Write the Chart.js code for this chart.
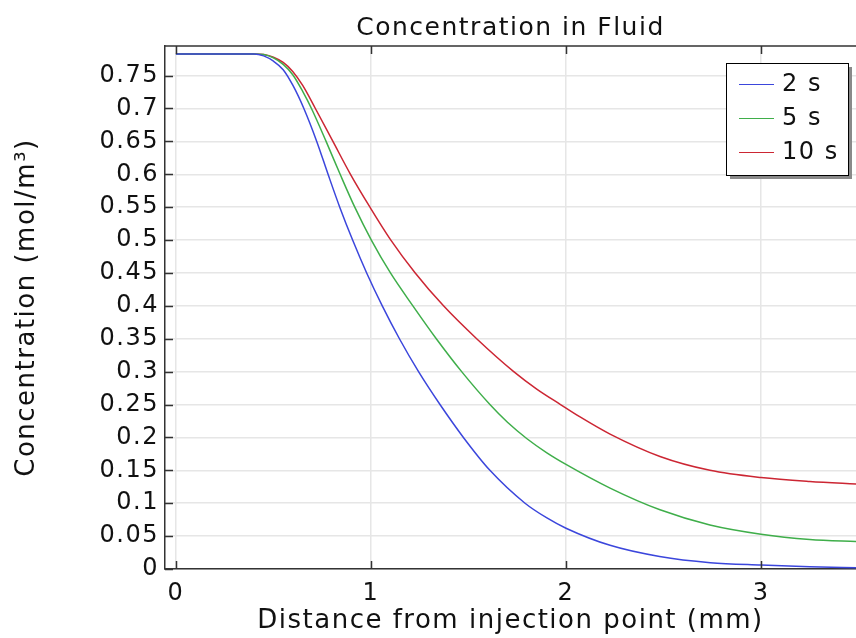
<!DOCTYPE html>
<html lang="en">
<head>
  <meta charset="UTF-8">
  <title>Concentration in Fluid</title>
  <script src="https://cdn.jsdelivr.net/npm/chart.js@4.4.1/dist/chart.umd.min.js"></script>
  <style>
    html, body { margin: 0; padding: 0; background: #fff; }
    #wrap { width: 856px; height: 638px; }
  </style>
</head>
<body>
  <div id="wrap"><canvas id="fluidChart" width="856" height="638"></canvas></div>
  <script>
    // distance from injection point (mm) and concentration (mol/m^3), one pair per time
    const dist2s = [0, 0.3, 0.4, 0.45, 0.5, 0.55, 0.6, 0.656, 0.722, 0.78, 0.84, 0.906, 0.978, 1.058, 1.146,
      1.244, 1.354, 1.474, 1.61, 1.79, 1.9, 2.0, 2.226, 2.48, 2.74, 3.0, 3.25, 3.5];
    const conc2s = [0.783, 0.783, 0.783, 0.780, 0.772, 0.759, 0.735, 0.70, 0.65, 0.60, 0.55, 0.50, 0.45, 0.40, 0.35,
      0.30, 0.25, 0.20, 0.15, 0.10, 0.078, 0.062, 0.036, 0.019, 0.0096, 0.006, 0.0035, 0.002];

    const dist5s = [0, 0.3, 0.4, 0.45, 0.5, 0.55, 0.6, 0.65, 0.695, 0.77, 0.842, 0.917, 1.002, 1.1, 1.215, 1.335,
      1.465, 1.61, 1.7, 1.8, 1.9, 2.0, 2.226, 2.482, 2.738, 3.0, 3.25, 3.5];
    const conc5s = [0.783, 0.783, 0.783, 0.782, 0.777, 0.767, 0.751, 0.726, 0.70, 0.65, 0.60, 0.55, 0.50, 0.45, 0.40, 0.35,
      0.30, 0.25, 0.223, 0.198, 0.177, 0.159, 0.123, 0.090, 0.067, 0.053, 0.045, 0.0415];

    const dist10s = [0, 0.3, 0.4, 0.45, 0.5, 0.55, 0.6, 0.65, 0.715, 0.805, 0.895, 0.995, 1.102, 1.227, 1.372, 1.542,
      1.732, 1.85, 1.972, 2.07, 2.226, 2.482, 2.738, 3.0, 3.25, 3.5];
    const conc10s = [0.783, 0.783, 0.783, 0.782, 0.778, 0.770, 0.756, 0.735, 0.70, 0.65, 0.60, 0.55, 0.50, 0.45, 0.40, 0.35,
      0.30, 0.2735, 0.25, 0.2315, 0.205, 0.171, 0.150, 0.139, 0.133, 0.129];

    const seriesLabels = ['2 s', '5 s', '10 s'];
    const seriesColors = ['#3b46dc', '#3fae4a', '#cc2633'];
    const xTicks = [0, 1, 2, 3];

    const toPoints = (xs, ys) => xs.map((x, i) => ({ x: x, y: ys[i] }));
    const FONT = "'DejaVu Sans', sans-serif";

    // the reference text is set wider than DejaVu, so space the letters a little
    const spacingPlugin = {
      id: 'spacing',
      beforeLayout(chart) { chart.ctx.letterSpacing = '1.5px'; },
      beforeDraw(chart) { chart.ctx.letterSpacing = '1.5px'; },
      beforeDatasetsDraw(chart) { chart.ctx.letterSpacing = '0px'; }
    };

    // inward tick marks, top frame line and the boxed legend
    const framePlugin = {
      id: 'frame',
      afterDatasetsDraw(chart) {
        const { ctx, chartArea: a, scales: { x, y } } = chart;
        ctx.save();
        ctx.strokeStyle = '#333';
        ctx.lineWidth = 1.5;
        ctx.beginPath();
        ctx.moveTo(a.left, a.top);
        ctx.lineTo(a.right, a.top);
        for (const t of y.ticks) {
          const py = Math.round(y.getPixelForValue(t.value)) + 0.5;
          ctx.moveTo(a.left, py);
          ctx.lineTo(a.left + 8, py);
        }
        for (const t of x.ticks) {
          const px = Math.round(x.getPixelForValue(t.value)) + 0.5;
          ctx.moveTo(px, a.bottom);
          ctx.lineTo(px, a.bottom - 8);
          ctx.moveTo(px, a.top);
          ctx.lineTo(px, a.top + 8);
        }
        ctx.stroke();

        // legend
        const lx = 726, ly = 63, lw = 122, lh = 112;
        ctx.fillStyle = '#8a8a8a';
        ctx.fillRect(lx + 4, ly + 4, lw, lh);
        ctx.fillStyle = '#fff';
        ctx.fillRect(lx, ly, lw, lh);
        ctx.strokeStyle = '#000';
        ctx.lineWidth = 1;
        ctx.strokeRect(lx + 0.5, ly + 0.5, lw, lh);
        ctx.font = '24px ' + FONT;
        ctx.letterSpacing = '1.5px';
        ctx.textBaseline = 'middle';
        chart.data.datasets.forEach((ds, i) => {
          const yy = 84 + i * 34;
          ctx.strokeStyle = ds.borderColor;
          ctx.lineWidth = 1.2;
          ctx.beginPath();
          ctx.moveTo(739, yy + 0.5);
          ctx.lineTo(774, yy + 0.5);
          ctx.stroke();
          ctx.fillStyle = '#111';
          ctx.fillText(ds.label, 782, yy + 1);
        });
        ctx.restore();
        ctx.letterSpacing = '1.5px';
      }
    };

    new Chart(document.getElementById('fluidChart'), {
      type: 'scatter',
      data: {
        datasets: [
          { label: seriesLabels[0], data: toPoints(dist2s, conc2s), borderColor: seriesColors[0] },
          { label: seriesLabels[1], data: toPoints(dist5s, conc5s), borderColor: seriesColors[1] },
          { label: seriesLabels[2], data: toPoints(dist10s, conc10s), borderColor: seriesColors[2] }
        ]
      },
      options: {
        responsive: false,
        animation: false,
        showLine: true,
        layout: { padding: 0 },
        elements: {
          point: { radius: 0, hoverRadius: 0 },
          line: { borderWidth: 1.5, cubicInterpolationMode: 'monotone', fill: false }
        },
        plugins: {
          legend: { display: false },
          tooltip: { enabled: false },
          title: {
            display: true,
            fullSize: false,
            text: 'Concentration in Fluid',
            color: '#111',
            font: { family: FONT, size: 25, weight: 'normal' },
            padding: { top: 13, bottom: 3 }
          }
        },
        scales: {
          x: {
            type: 'linear',
            min: -0.056,
            max: 3.487,
            afterBuildTicks: s => { s.ticks = xTicks.map(v => ({ value: v })); },
            afterFit: s => { s.height = 69; },
            ticks: {
              color: '#111',
              font: { family: FONT, size: 24 },
              padding: 10,
              maxRotation: 0,
              callback: v => String(v)
            },
            grid: { color: '#e6e6e6', lineWidth: 1.5, drawTicks: false },
            border: { display: true, color: '#333', width: 1.5 },
            title: {
              display: true,
              text: 'Distance from injection point (mm)',
              color: '#111',
              font: { family: FONT, size: 26 },
              padding: { top: 0, bottom: 1 }
            }
          },
          y: {
            min: 0,
            max: 0.795,
            afterFit: s => { s.width = 165; },
            ticks: {
              stepSize: 0.05,
              includeBounds: false,
              color: '#111',
              font: { family: FONT, size: 24 },
              padding: 6,
              callback: v => String(+v.toFixed(2))
            },
            grid: { color: '#e6e6e6', lineWidth: 1.5, drawTicks: false },
            border: { display: true, color: '#333', width: 1.5 },
            title: {
              display: true,
              text: 'Concentration (mol/m³)',
              color: '#111',
              font: { family: FONT, size: 26 },
              padding: { top: 12, bottom: 0 }
            }
          }
        }
      },
      plugins: [spacingPlugin, framePlugin]
    });
  </script>
</body>
</html>
